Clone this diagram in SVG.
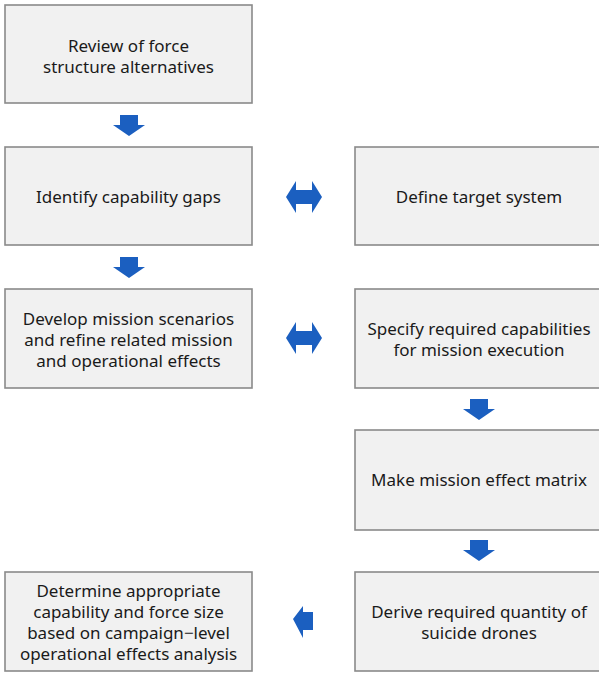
<svg xmlns="http://www.w3.org/2000/svg" width="599" height="673" viewBox="0 0 599 673">
<style>
.box{fill:#f1f1f1;stroke:#8a8a8a;stroke-width:1.6}
.t{font-family:"Noto Sans","Noto Sans CJK KR",sans-serif;font-size:17px;fill:#1a1a1a;text-anchor:middle}
.arr{fill:#1b5fc0}
</style>
<defs>
<polygon id="down" points="-9,-10 9,-10 9,0 16,0 0,11 -16,0 -9,0"/>
<polygon id="dbl" points="-36,0 -26,-16 -26,-7 -10,-7 -10,-16 0,0 -10,16 -10,7 -26,7 -26,16" transform="translate(18,0)"/>
</defs>
<g id="n1"><rect class="box" x="5" y="5" width="247" height="98"/><text class="t" x="128.5" y="52">Review of force</text><text class="t" x="128.5" y="73">structure alternatives</text></g>
<g id="n2"><rect class="box" x="5" y="147" width="247" height="98"/><text class="t" x="128.5" y="203">Identify capability gaps</text></g>
<g id="n3"><rect class="box" x="355" y="147" width="248" height="98"/><text class="t" x="479" y="203">Define target system</text></g>
<g id="n4"><rect class="box" x="5" y="289" width="247" height="99"/><text class="t" x="128.5" y="325">Develop mission scenarios</text><text class="t" x="128.5" y="346">and refine related mission</text><text class="t" x="128.5" y="367">and operational effects</text></g>
<g id="n5"><rect class="box" x="355" y="289" width="248" height="99"/><text class="t" x="479" y="335">Specify required capabilities</text><text class="t" x="479" y="356">for mission execution</text></g>
<g id="n6"><rect class="box" x="355" y="430" width="248" height="100"/><text class="t" x="479" y="486">Make mission effect matrix</text></g>
<g id="n7"><rect class="box" x="355" y="572" width="248" height="99"/><text class="t" x="479" y="618">Derive required quantity of</text><text class="t" x="479" y="639">suicide drones</text></g>
<g id="n8"><rect class="box" x="5" y="572" width="247" height="99"/><text class="t" x="128.5" y="597">Determine appropriate</text><text class="t" x="128.5" y="618">capability and force size</text><text class="t" x="128.5" y="639">based on campaign−level</text><text class="t" x="128.5" y="660">operational effects analysis</text></g>
<g id="connectors" class="arr">
<use href="#down" transform="translate(129,125)"/>
<use href="#down" transform="translate(129,267)"/>
<use href="#down" transform="translate(479,409)"/>
<use href="#down" transform="translate(479,550)"/>
<use href="#dbl" transform="translate(304,197)"/>
<use href="#dbl" transform="translate(304,338)"/>
<polygon points="293,619 303,606 303,612 313,612 313,630 303,630 303,638"/>
</g>
</svg>
